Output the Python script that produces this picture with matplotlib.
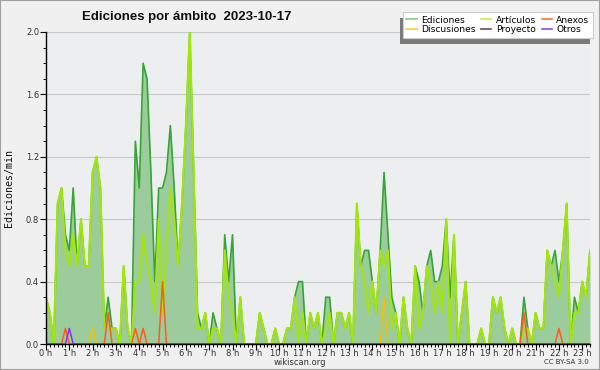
import numpy as np
import matplotlib
matplotlib.use("Agg")
import matplotlib.pyplot as plt
from matplotlib.lines import Line2D
from matplotlib.patches import Rectangle
from matplotlib.ticker import MultipleLocator, FixedLocator

# Edits per minute, one value per 10-minute slot (0:00 .. 23:20), one row per hour
ediciones = [
    0.3, 0.2, 0.0, 0.9, 1.0, 0.7,
    0.6, 1.0, 0.5, 0.8, 0.5, 0.5,
    1.1, 1.2, 1.0, 0.1, 0.3, 0.1,
    0.1, 0.0, 0.5, 0.1, 0.0, 1.3,
    1.0, 1.8, 1.7, 1.1, 0.4, 1.0,
    1.0, 1.1, 1.4, 1.0, 0.5, 0.9,
    1.4, 2.0, 1.1, 0.2, 0.1, 0.2,
    0.0, 0.2, 0.1, 0.0, 0.7, 0.4,
    0.7, 0.0, 0.3, 0.0, 0.0, 0.0,
    0.0, 0.2, 0.1, 0.0, 0.0, 0.1,
    0.0, 0.0, 0.1, 0.1, 0.3, 0.4,
    0.4, 0.0, 0.2, 0.1, 0.2, 0.0,
    0.3, 0.3, 0.0, 0.2, 0.2, 0.1,
    0.2, 0.0, 0.9, 0.5, 0.6, 0.6,
    0.4, 0.2, 0.6, 1.1, 0.7, 0.3,
    0.2, 0.0, 0.3, 0.1, 0.0, 0.5,
    0.4, 0.2, 0.5, 0.6, 0.4, 0.4,
    0.5, 0.8, 0.3, 0.7, 0.0, 0.2,
    0.4, 0.0, 0.0, 0.0, 0.1, 0.0,
    0.0, 0.3, 0.2, 0.3, 0.1, 0.0,
    0.1, 0.0, 0.0, 0.3, 0.1, 0.0,
    0.2, 0.1, 0.1, 0.6, 0.5, 0.6,
    0.4, 0.6, 0.9, 0.0, 0.3, 0.2,
    0.4, 0.3, 0.6,
]
articulos = [
    0.3, 0.2, 0.0, 0.9, 1.0, 0.6,
    0.5, 0.7, 0.5, 0.8, 0.5, 0.5,
    1.1, 1.2, 1.0, 0.1, 0.1, 0.1,
    0.1, 0.0, 0.5, 0.1, 0.0, 0.4,
    0.4, 0.7, 0.5, 0.4, 0.2, 0.8,
    0.2, 0.6, 1.0, 0.8, 0.5, 0.9,
    1.4, 2.0, 1.1, 0.1, 0.1, 0.2,
    0.0, 0.1, 0.1, 0.0, 0.6, 0.3,
    0.2, 0.0, 0.3, 0.0, 0.0, 0.0,
    0.0, 0.2, 0.1, 0.0, 0.0, 0.1,
    0.0, 0.0, 0.1, 0.1, 0.3, 0.0,
    0.2, 0.0, 0.2, 0.1, 0.2, 0.0,
    0.1, 0.2, 0.0, 0.2, 0.2, 0.1,
    0.2, 0.0, 0.9, 0.5, 0.4, 0.2,
    0.4, 0.2, 0.6, 0.5, 0.6, 0.1,
    0.2, 0.0, 0.3, 0.1, 0.0, 0.5,
    0.1, 0.2, 0.5, 0.4, 0.2, 0.4,
    0.2, 0.8, 0.0, 0.7, 0.0, 0.2,
    0.4, 0.0, 0.0, 0.0, 0.1, 0.0,
    0.0, 0.3, 0.2, 0.3, 0.1, 0.0,
    0.1, 0.0, 0.0, 0.1, 0.1, 0.0,
    0.2, 0.1, 0.1, 0.6, 0.5, 0.4,
    0.3, 0.6, 0.9, 0.0, 0.2, 0.2,
    0.4, 0.3, 0.6,
]
anexos = [
    0, 0, 0, 0, 0, 0.1,   0, 0, 0, 0, 0, 0,   0, 0, 0, 0, 0.2, 0,
    0, 0, 0, 0, 0, 0.1,   0, 0.1, 0, 0, 0, 0,   0.4, 0, 0, 0, 0, 0,
    0, 0, 0, 0, 0, 0,     0, 0, 0, 0, 0, 0,   0, 0, 0, 0, 0, 0,
    0, 0, 0, 0, 0, 0,     0, 0, 0, 0, 0, 0,   0, 0, 0, 0, 0, 0,
    0, 0, 0, 0, 0, 0,     0, 0, 0, 0, 0, 0,   0, 0, 0, 0, 0, 0,
    0, 0, 0, 0, 0, 0,     0, 0, 0, 0, 0, 0,   0, 0, 0, 0, 0, 0,
    0, 0, 0, 0, 0, 0,     0, 0, 0, 0, 0, 0,   0, 0, 0, 0.2, 0, 0,
    0, 0, 0, 0, 0, 0,     0.1, 0, 0, 0, 0, 0,   0, 0, 0,
]
discusiones = [
    0, 0, 0, 0, 0, 0,     0, 0, 0, 0, 0, 0,   0.1, 0, 0, 0, 0, 0,
    0, 0, 0, 0, 0, 0,     0, 0, 0, 0, 0, 0,   0, 0, 0, 0, 0, 0,
    0, 0, 0, 0, 0, 0,     0, 0, 0, 0, 0, 0,   0, 0, 0, 0, 0, 0,
    0, 0, 0, 0, 0, 0,     0, 0, 0, 0, 0, 0,   0, 0, 0, 0, 0, 0,
    0, 0, 0, 0, 0, 0,     0, 0, 0, 0, 0, 0,   0, 0, 0, 0.3, 0, 0,
    0, 0, 0, 0, 0, 0,     0, 0, 0, 0, 0, 0,   0, 0, 0, 0, 0, 0,
    0, 0, 0, 0, 0, 0,     0, 0, 0, 0, 0, 0,   0, 0, 0, 0, 0, 0,
    0, 0, 0, 0, 0, 0,     0, 0, 0, 0, 0, 0,   0, 0, 0,
]
otros = [
    0, 0, 0, 0, 0, 0,     0.1, 0, 0, 0, 0, 0,   0, 0, 0, 0, 0, 0,
    0, 0, 0, 0, 0, 0,     0, 0, 0, 0, 0, 0,   0, 0, 0, 0, 0, 0,
    0, 0, 0, 0, 0, 0,     0, 0, 0, 0, 0, 0,   0, 0, 0, 0, 0, 0,
    0, 0, 0, 0, 0, 0,     0, 0, 0, 0, 0, 0,   0, 0, 0, 0, 0, 0,
    0, 0, 0, 0, 0, 0,     0, 0, 0, 0, 0, 0,   0, 0, 0, 0, 0, 0,
    0, 0, 0, 0, 0, 0,     0, 0, 0, 0, 0, 0,   0, 0, 0, 0, 0, 0,
    0, 0, 0, 0, 0, 0,     0, 0, 0, 0, 0, 0,   0, 0, 0, 0, 0, 0,
    0, 0, 0, 0, 0, 0,     0, 0, 0, 0, 0, 0,   0, 0, 0,
]
hour_labels = [f"{h} h" for h in range(24)]

# x position of each slot, in hours
hours = np.arange(len(ediciones)) / 6.0

fig = plt.figure(figsize=(6, 3.7), dpi=100, facecolor="#f0f0f0")
ax = fig.add_axes([46 / 600, 1 - 344 / 370, 544 / 600, 312 / 370])
ax.set_facecolor("#eceef0")

# Area for total edits, then the namespace lines on top
ax.fill_between(hours, ediciones, color="#9ccb9c", lw=0, zorder=2)
ax.plot(hours, ediciones, color="#35a535", lw=1.2, zorder=3)
ax.plot(hours, articulos, color="#a2e60a", lw=1.5, zorder=4)
ax.plot(hours, discusiones, color="#f5c000", lw=1.1, zorder=5)
ax.plot(hours, anexos, color="#ff5a1e", lw=1.1, zorder=5)
ax.plot(hours, otros, color="#7a33ff", lw=1.1, zorder=5)

ax.set_xlim(0, hours[-1])
ax.set_ylim(0, 2.0)

ax.xaxis.set_major_locator(FixedLocator(range(24)))
ax.set_xticklabels(hour_labels)
ax.xaxis.set_minor_locator(MultipleLocator(1 / 6))
ax.yaxis.set_major_locator(MultipleLocator(0.4))
ax.yaxis.set_minor_locator(MultipleLocator(0.1))
ax.yaxis.set_major_formatter(matplotlib.ticker.FormatStrFormatter("%.1f"))

ax.tick_params(axis="both", which="major", length=4, width=0.8, color="black",
               labelsize=6, labelcolor="#333333")
ax.tick_params(axis="x", which="major", pad=-0.5)
ax.tick_params(axis="y", which="major", pad=1)
ax.tick_params(axis="both", which="minor", length=2.5, width=0.7, color="black")

for side in ["top", "right"]:
    ax.spines[side].set_visible(False)
for side in ["left", "bottom"]:
    ax.spines[side].set_color("black")
    ax.spines[side].set_linewidth(1)
    ax.spines[side].set_zorder(6)

ax.yaxis.grid(True, color="#c8c8c8", lw=0.8)
ax.set_axisbelow(True)

# Texts
fig.text(187 / 600, 1 - 17 / 370, "Ediciones por ámbito  2023-10-17",
         ha="center", va="center", fontsize=9.5, fontweight="bold",
         family="Liberation Sans", color="#111111")
fig.text(9 / 600, 1 - 188 / 370, "Ediciones/min", rotation=90, ha="center",
         va="center", fontsize=7.2, family="DejaVu Sans Mono", color="#111111")
fig.text(300 / 600, 1 - 362.5 / 370, "wikiscan.org", ha="center", va="center",
         fontsize=6, color="#333333")
fig.text(589 / 600, 1 - 362.5 / 370, "CC BY-SA 3.0", ha="right", va="center",
         fontsize=5, color="#333333")

# Legend with a shadow offset to the lower left
handles = [
    Line2D([], [], color="#7fcf7f", lw=1.2, label="Ediciones"),
    Line2D([], [], color="#ffcc44", lw=1.2, label="Discusiones"),
    Line2D([], [], color="#c8f040", lw=1.2, label="Artículos"),
    Line2D([], [], color="#555555", lw=1.2, label="Proyecto"),
    Line2D([], [], color="#ff7040", lw=1.2, label="Anexos"),
    Line2D([], [], color="#8a44ff", lw=1.2, label="Otros"),
]
leg = fig.legend(handles=handles, ncol=3, loc="upper right",
                 bbox_to_anchor=(593 / 600, 1 - 12 / 370), fontsize=6.6,
                 frameon=True, fancybox=False, framealpha=1, facecolor="white",
                 edgecolor="#cccccc", borderpad=0.4, labelspacing=0.05,
                 handlelength=1.1, handletextpad=0.5, columnspacing=0.6,
                 borderaxespad=0)
leg.get_frame().set_linewidth(0.8)
leg.set_zorder(10)

fig.canvas.draw()
bb = leg.get_window_extent().transformed(fig.transFigure.inverted())
fig.patches.append(Rectangle((bb.x0 - 3 / 600, bb.y0 - 6 / 370), bb.width, bb.height,
                             transform=fig.transFigure, facecolor="#7a7a7a",
                             edgecolor="none", zorder=9))

# Figure border
fig.patches.append(Rectangle((0, 0), 1, 1, transform=fig.transFigure,
                             fill=False, edgecolor="#a0a0a0", lw=1.5, zorder=20))

fig.savefig("out.png", dpi=100, facecolor=fig.get_facecolor())
